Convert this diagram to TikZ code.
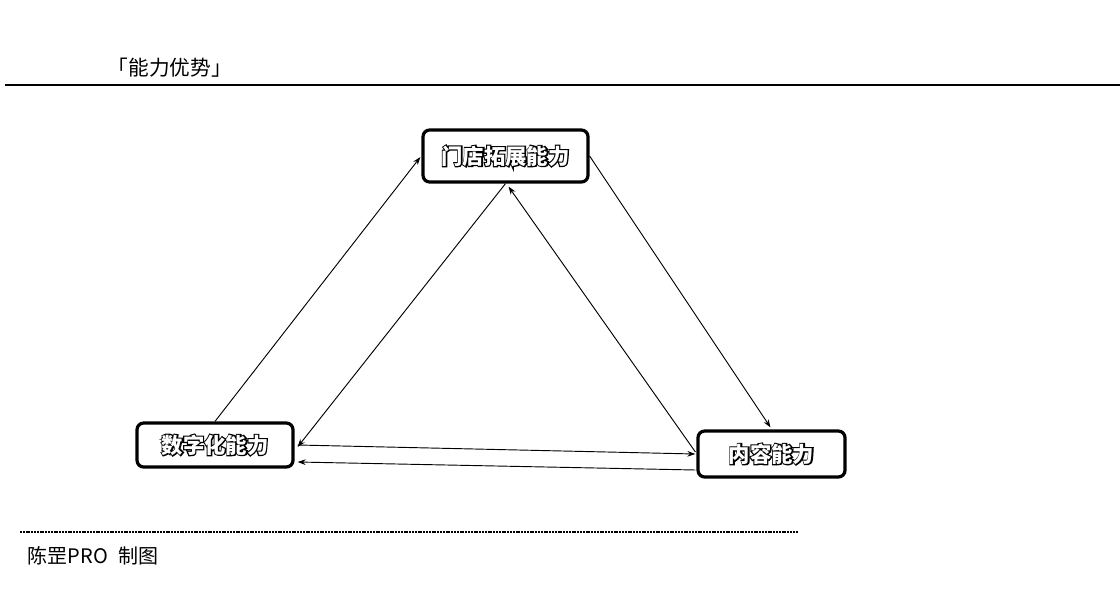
\documentclass[tikz,border=0pt]{standalone}
\usepackage{fontspec}
\usepackage{xcolor}
\usepackage{tikz}
\usetikzlibrary{arrows.meta}
\usetikzlibrary{calc}
\newfontfamily\cjk{Noto Sans CJK SC}
\newfontfamily\cjkout[FakeBold=11,BoldFeatures={FakeBold=11}]{Noto Sans CJK SC}
\newcommand\abil[1]{\rlap{\cjkout\bfseries #1}\textcolor{white}{#1}}
\tikzstyle{abox}=[draw,line width=2.4pt,rounded corners=5pt,inner sep=0pt,font=\cjk\bfseries\fontsize{16}{18}\selectfont]
\tikzstyle{ahead}=[>/.tip={Stealth[length=6pt,width=4.2pt]}]
\tikzstyle{lk}=[line width=.7pt,ahead,->]
\begin{document}
\begin{tikzpicture}[x=.75pt,y=-.75pt]
	\useasboundingbox (0,0) rectangle (1120,607);
	\node[anchor=west,font=\cjk\fontsize{15.5}{18}\selectfont] (title) at (103,68) {「能力优势」};
	\draw[line width=1.5pt] (5,85) coordinate (rl) -- (1120,85) coordinate (rr);
	\node[abox,minimum width=123.75pt,minimum height=39pt] (shop) at (505.5,156) {\abil{门店拓展能力}};
	\node[abox,minimum width=117pt,minimum height=33pt] (digit) at (215,445) {\abil{数字化能力}};
	\node[abox,minimum width=110.25pt,minimum height=34.5pt] (cont) at (771.5,454) {\abil{内容能力}};
	\draw[lk] (digit.north) -- ($(shop.west)+(-1,1)$);
	\draw[lk] (shop.south) -- ($(digit.east)+(3,2)$);
	\draw[lk] ($(cont.west)+(-1,-2)$) -- ($(shop.south)+(3,3)$);
	\draw[lk] (shop.east) -- ($(cont.north)+(-1,-2)$);
	\draw[lk] ($(digit.east)+(3,0)$) -- ($(cont.west)+(-1,0)$);
	\draw[lk] ($(cont.west)+(-1,16)$) -- ($(digit.east)+(3,17)$);
	\draw[line width=1.5pt,dash pattern=on 1.5pt off .6pt] (20,532) coordinate (dl) -- (798,532) coordinate (dr);
	\node[anchor=west,font=\cjk\fontsize{15}{18}\selectfont] (credit) at (23,556) {陈罡PRO\hspace{.55em}制图};
\end{tikzpicture}
\end{document}
